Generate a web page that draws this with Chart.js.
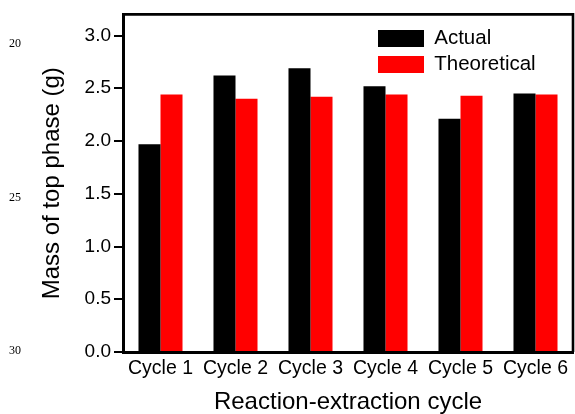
<!DOCTYPE html>
<html>
<head>
<meta charset="utf-8">
<script src="https://cdn.jsdelivr.net/npm/chart.js@4/dist/chart.umd.min.js"></script>
<style>
  html, body { margin: 0; padding: 0; background: #fff; }
  #wrap { position: relative; width: 575px; height: 414px; }
  #chart { position: absolute; left: 0; top: 0; }
  .ln { position: absolute; left: 9px; font: 12px "Liberation Serif", "Times New Roman", serif; color: #000; line-height: 12px; }
</style>
</head>
<body>
<div id="wrap">
  <canvas id="chart" width="575" height="414"></canvas>
  <div class="ln" style="top:37px">20</div>
  <div class="ln" style="top:191px">25</div>
  <div class="ln" style="top:344px">30</div>
</div>
<script>
// Mass of top phase collected after each reaction-extraction cycle
const cycles = ['Cycle 1', 'Cycle 2', 'Cycle 3', 'Cycle 4', 'Cycle 5', 'Cycle 6'];
const actualMass = [1.97, 2.62, 2.69, 2.52, 2.21, 2.45];
const theoreticalMass = [2.44, 2.40, 2.42, 2.44, 2.43, 2.44];
const yTickValues = [0, 0.5, 1.0, 1.5, 2.0, 2.5, 3.0];

const FONT = '"Liberation Sans", Arial, Helvetica, sans-serif';

// Closes the plot box with a top and right edge
const frameBox = {
  id: 'frameBox',
  afterDatasetsDraw(chart) {
    const { ctx, chartArea: a } = chart;
    ctx.save();
    ctx.strokeStyle = '#000';
    ctx.lineWidth = 2.6;
    ctx.beginPath();
    ctx.moveTo(a.left, a.top);
    ctx.lineTo(a.right, a.top);
    ctx.lineTo(a.right, a.bottom);
    ctx.stroke();
    ctx.restore();
  }
};

// Places the legend in the upper right corner of the plot
const legendSpot = {
  id: 'legendSpot',
  afterUpdate(chart) {
    const lg = chart.legend;
    if (!lg) return;
    lg.left = 372.5;
    lg.top = 22.75;
    lg.right = 575;
    lg.bottom = 200;
    lg.width = lg.right - lg.left;
    lg.height = lg.bottom - lg.top;
    lg.adjustHitBoxes();
  }
};

new Chart(document.getElementById('chart'), {
  type: 'bar',
  data: {
    labels: cycles,
    datasets: [
      { label: 'Actual', data: actualMass, backgroundColor: '#000000', borderWidth: 0 },
      { label: 'Theoretical', data: theoreticalMass, backgroundColor: '#ff0000', borderWidth: 0 }
    ]
  },
  options: {
    responsive: false,
    animation: false,
    devicePixelRatio: 1,
    categoryPercentage: 0.587,
    barPercentage: 1.0,
    layout: { padding: { left: 0, top: 13, right: 2, bottom: 0 } },
    plugins: {
      tooltip: { enabled: false },
      legend: {
        position: 'chartArea',
        align: 'start',
        labels: {
          boxWidth: 46,
          boxHeight: 17,
          padding: 5.5,
          color: '#000',
          font: { family: FONT, size: 20.5 }
        }
      }
    },
    scales: {
      x: {
        grid: { display: false },
        border: { display: true, color: '#000', width: 3 },
        ticks: { color: '#000', padding: -3, font: { family: FONT, size: 19.5 }, maxRotation: 0 },
        title: {
          display: true,
          text: 'Reaction-extraction cycle',
          color: '#000',
          font: { family: FONT, size: 24, lineHeight: 1 },
          padding: { top: 0, bottom: 0 }
        },
        afterFit(scale) { scale.height = 62; }
      },
      y: {
        min: 0,
        max: 3.2,
        grid: { drawOnChartArea: false, drawTicks: true, tickLength: 9, color: '#000', lineWidth: 2 },
        border: { display: true, color: '#000', width: 3 },
        ticks: {
          includeBounds: false,
          color: '#000',
          padding: 3,
          font: { family: FONT, size: 19 },
          callback: (v) => Number(v).toFixed(1)
        },
        afterBuildTicks(scale) { scale.ticks = yTickValues.map(v => ({ value: v })); },
        title: {
          display: true,
          text: 'Mass of top phase (g)',
          color: '#000',
          font: { family: FONT, size: 24, lineHeight: 1 },
          padding: { top: 40.5, bottom: 0 }
        },
        afterFit(scale) { scale.width = 123; }
      }
    }
  },
  plugins: [frameBox, legendSpot]
});
</script>
</body>
</html>
